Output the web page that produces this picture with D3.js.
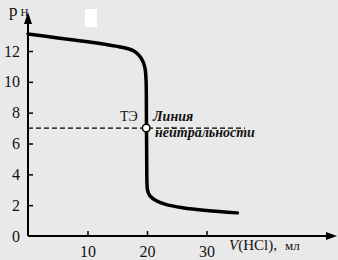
<!DOCTYPE html>
<html><head><meta charset="utf-8">
<script src="https://cdn.jsdelivr.net/npm/d3@7"></script>
<style>html,body{margin:0;padding:0;background:#e9e9e9;}svg{display:block;}
svg text{font-family:"Liberation Serif","Times New Roman","DejaVu Serif",serif !important;}</style>
</head><body>
<svg id="c" width="338" height="260"></svg>
<script>
const volume = [0, 5, 10, 15, 16.5, 17.8, 18.8, 19.4, 19.7, 19.85, 19.9, 19.95, 20.0, 20.1, 20.5, 21.5, 23, 26, 30, 35.2];
const pH =     [13.1, 12.85, 12.6, 12.3, 12.18, 12.0, 11.65, 11.25, 10.8, 10, 8, 5, 3.4, 2.95, 2.6, 2.3, 2.07, 1.83, 1.65, 1.5];
const xTicks = [10, 20, 30];
const yTicks = [0, 2, 4, 6, 8, 10, 12];
const neutralPH = 7;
const eqV = 20;

const svg = d3.select("#c");
const x = d3.scaleLinear().domain([0, 20]).range([28, 147]);
const y = d3.scaleLinear().domain([0, 12]).range([236, 51]);

svg.append("rect").attr("x",85).attr("y",9).attr("width",12).attr("height",18).attr("fill","#fff");

svg.append("line").attr("x1",28).attr("y1",236).attr("x2",330).attr("y2",236).attr("stroke","#000").attr("stroke-width",2);
svg.append("path").attr("d","M337,236 L326,232 L326,240 Z").attr("fill","#000");
svg.append("line").attr("x1",28).attr("y1",236).attr("x2",28).attr("y2",20).attr("stroke","#000").attr("stroke-width",2);
svg.append("path").attr("d","M28,12 L24,24 L32,24 Z").attr("fill","#000");

const gx = svg.append("g").attr("transform","translate(0,236)")
  .call(d3.axisBottom(x).tickValues(xTicks).tickSize(-5).tickPadding(7).tickFormat(d3.format("d")));
gx.select(".domain").remove();
gx.selectAll("line").attr("stroke","#000").attr("stroke-width",1.5);
gx.selectAll("text").attr("font-size",16).attr("fill","#111").attr("dy","0.85em");

const gy = svg.append("g").attr("transform","translate(28,0)")
  .call(d3.axisLeft(y).tickValues(yTicks).tickSize(-5).tickPadding(8).tickFormat(d3.format("d")));
gy.select(".domain").remove();
gy.selectAll("line").attr("stroke","#000").attr("stroke-width",1.5);
gy.selectAll(".tick").filter(d=>d===0).select("line").remove();
gy.selectAll("text").attr("font-size",16).attr("fill","#111").attr("x",-8);

const yl = svg.append("text").attr("x",9).attr("y",16).attr("fill","#111");
yl.append("tspan").attr("font-size",17).text("р");
yl.append("tspan").attr("font-size",11).attr("dx",3).text("Н");
const xl = svg.append("text").attr("x",229).attr("y",250).attr("font-size",15).attr("fill","#111");
xl.append("tspan").attr("font-style","italic").text("V");
xl.append("tspan").text("(HCl),");
xl.append("tspan").attr("dx",8).attr("font-size",13).text("мл");

svg.append("line").attr("x1",x(0)).attr("x2",245).attr("y1",y(neutralPH)).attr("y2",y(neutralPH))
  .attr("stroke","#000").attr("stroke-width",1.3).attr("stroke-dasharray","5,3");

const line = d3.line().x((d,i)=>x(volume[i])).y((d,i)=>y(pH[i])).curve(d3.curveCatmullRom.alpha(0.5));
svg.append("path").attr("d", line(volume)).attr("fill","none").attr("stroke","#000").attr("stroke-width",3.5).attr("stroke-linecap","round");

svg.append("circle").attr("cx",x(eqV)-0.8).attr("cy",y(neutralPH)).attr("r",3.8).attr("fill","#fff").attr("stroke","#000").attr("stroke-width",1.5);

svg.append("text").attr("x",120).attr("y",121).attr("font-size",14).attr("fill","#111").text("ТЭ");
svg.append("text").attr("x",153).attr("y",121).attr("font-size",14).attr("font-style","italic").attr("font-weight","bold").attr("fill","#111").text("Линия");
svg.append("text").attr("x",155).attr("y",137).attr("font-size",14).attr("font-style","italic").attr("font-weight","bold").attr("fill","#111").text("нейтральности");
</script>
</body></html>
